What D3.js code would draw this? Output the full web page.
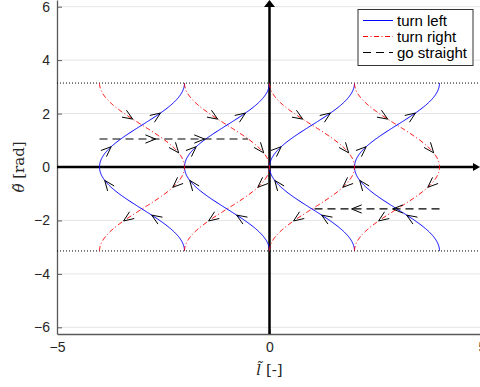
<!DOCTYPE html>
<html>
<head>
<meta charset="utf-8">
<script src="https://cdn.jsdelivr.net/npm/d3@7"></script>
<style>
  body { margin: 0; background: #fff; }
  text { font-family: "Liberation Sans", Arial, sans-serif; }
</style>
</head>
<body>
<div id="chart"></div>
<script>
const xTicks = [-5, 0, 5];
const yTicks = [-6, -4, -2, 0, 2, 4, 6];
const arcCenters = [-3, -1, 1, 3];       // l offset of each arc family
const thetaLimit = Math.PI;               // arcs run over [-pi, pi]
// arrow tip positions (theta) on the half arcs
const leftUpperArrows = [0.76, 2.02];
const leftLowerArrows = [-1.80, -0.50];
const rightUpperArrows = [1.79, 0.53];
const rightLowerArrows = [-0.76, -2.02];
const straightPaths = [
  { theta: Math.PI / 3, from: -4, to: -0.5, arrows: [-2.68, -1.53] },
  { theta: -Math.PI / 2, from: 4, to: 1, arrows: [2.9, 1.93] }
];
const legendLabels = ["turn left", "turn right", "go straight"];

const width = 480, height = 387;
const margin = { left: 57, top: 0, bottom: 53 };

const svg = d3.select("#chart").append("svg")
  .attr("width", width)
  .attr("height", height)
  .style("display", "block");

const x = d3.scaleLinear().domain([-5, 5]).range([margin.left, 482]);
const y = d3.scaleLinear().domain([-6.25, 6.25]).range([height - margin.bottom, margin.top]);

svg.append("defs").append("clipPath").attr("id", "plot")
  .append("rect")
  .attr("x", x(-5)).attr("y", y(6.25))
  .attr("width", x(5) - x(-5)).attr("height", y(-6.25) - y(6.25));

// grid
svg.append("g")
  .selectAll("line")
  .data(yTicks)
  .enter().append("line")
  .attr("x1", x(-5)).attr("x2", x(5))
  .attr("y1", d => y(d)).attr("y2", d => y(d))
  .attr("stroke", "#e6e6e6")
  .attr("stroke-width", 1);

// axes
const yAxis = d3.axisLeft(y).tickValues(yTicks).tickSizeInner(-5).tickSizeOuter(0).tickPadding(7);
const xAxis = d3.axisBottom(x).tickValues(xTicks).tickSizeInner(-5).tickSizeOuter(0).tickPadding(8);

const gy = svg.append("g").attr("transform", `translate(${x(-5)},0)`).call(yAxis);
const gx = svg.append("g").attr("transform", `translate(0,${y(-6.25)})`).call(xAxis);
[gx, gy].forEach(g => {
  g.select(".domain").attr("stroke", "#595959").attr("stroke-width", 1.3);
  g.selectAll(".tick line").attr("stroke", "#595959");
  g.selectAll(".tick text").attr("fill", "#262626").style("font-size", "14px");
});

const plot = svg.append("g").attr("clip-path", "url(#plot)");

// +-pi bounds
plot.selectAll(".bound")
  .data([-Math.PI, Math.PI])
  .enter().append("line")
  .attr("x1", x(-5)).attr("x2", x(5))
  .attr("y1", d => y(d)).attr("y2", d => y(d))
  .attr("stroke", "#000")
  .attr("stroke-width", 1)
  .attr("stroke-dasharray", "1,2");

// black coordinate axes with arrow heads
plot.append("line")
  .attr("x1", x(-5)).attr("x2", x(5) - 8)
  .attr("y1", y(0)).attr("y2", y(0))
  .attr("stroke", "#000").attr("stroke-width", 2.5);
plot.append("path")
  .attr("d", `M${x(5) - 2},${y(0)} L${x(5) - 9},${y(0) - 4} L${x(5) - 9},${y(0) + 4} Z`)
  .attr("fill", "#000");
plot.append("line")
  .attr("x1", x(0)).attr("x2", x(0))
  .attr("y1", y(-6.25)).attr("y2", y(6.25) + 5)
  .attr("stroke", "#000").attr("stroke-width", 2.5);
plot.append("path")
  .attr("d", `M${x(0)},${y(6.25)} L${x(0) - 5.5},${y(6.25) + 7} L${x(0) + 5.5},${y(6.25) + 7} Z`)
  .attr("fill", "#000");

const thetas = d3.range(-thetaLimit, thetaLimit + 1e-9, thetaLimit / 120);
const line = d3.line().x(d => x(d[0])).y(d => y(d[1]));

// turn left: l = c - cos(theta); turn right: l = c + cos(theta)
plot.selectAll(".left")
  .data(arcCenters)
  .enter().append("path")
  .attr("d", c => line(thetas.map(t => [c - Math.cos(t), t])))
  .attr("fill", "none")
  .attr("stroke", "#0000ff")
  .attr("stroke-width", 1);

plot.selectAll(".right")
  .data(arcCenters)
  .enter().append("path")
  .attr("d", c => line(thetas.map(t => [c + Math.cos(t), t])))
  .attr("fill", "none")
  .attr("stroke", "#ff0000")
  .attr("stroke-width", 1)
  .attr("stroke-dasharray", "5,2.5,1,2.5");

plot.selectAll(".straight")
  .data(straightPaths)
  .enter().append("line")
  .attr("x1", d => x(d.from)).attr("x2", d => x(d.to))
  .attr("y1", d => y(d.theta)).attr("y2", d => y(d.theta))
  .attr("stroke", "#000")
  .attr("stroke-width", 1.2)
  .attr("stroke-dasharray", "8,5");

// arrow heads
const arrows = [];
const kx = x(1) - x(0), ky = y(0) - y(1);
arcCenters.forEach(c => {
  leftUpperArrows.concat(leftLowerArrows).forEach(t => {
    arrows.push({ l: c - Math.cos(t), t: t, dx: Math.sin(t) * kx, dy: -ky });
  });
  rightUpperArrows.concat(rightLowerArrows).forEach(t => {
    arrows.push({ l: c + Math.cos(t), t: t, dx: Math.sin(t) * kx, dy: ky });
  });
});
straightPaths.forEach(p => {
  p.arrows.forEach(l => {
    arrows.push({ l: l, t: p.theta, dx: Math.sign(p.to - p.from), dy: 0 });
  });
});

const armLen = 11, armAngle = 22 * Math.PI / 180;
plot.selectAll(".arrow")
  .data(arrows)
  .enter().append("path")
  .attr("d", d => {
    const px = x(d.l), py = y(d.t);
    const n = Math.hypot(d.dx, d.dy);
    const ux = d.dx / n, uy = d.dy / n;
    const arm = s => {
      const ca = Math.cos(s * armAngle), sa = Math.sin(s * armAngle);
      const rx = ux * ca - uy * sa, ry = ux * sa + uy * ca;
      return [px - armLen * rx, py - armLen * ry];
    };
    const a = arm(1), b = arm(-1);
    return `M${a[0]},${a[1]} L${px},${py} L${b[0]},${b[1]}`;
  })
  .attr("fill", "none")
  .attr("stroke", "#000")
  .attr("stroke-width", 1);

// axis labels
const yLabel = svg.append("text")
  .attr("transform", `translate(24,${y(0)}) rotate(-90)`)
  .attr("text-anchor", "middle")
  .attr("fill", "#262626")
  .style("font-family", "'DejaVu Serif', 'Liberation Serif', serif")
  .style("font-size", "15px");
yLabel.append("tspan").style("font-style", "italic").text("θ\u0303");
yLabel.append("tspan").text(" [rad]");

const xLabel = svg.append("text")
  .attr("x", x(0)).attr("y", 375)
  .attr("text-anchor", "middle")
  .attr("fill", "#262626")
  .style("font-family", "'DejaVu Serif', 'Liberation Serif', serif")
  .style("font-size", "15px");
xLabel.append("tspan").style("font-style", "italic").text("l\u0303");
xLabel.append("tspan").text(" [-]");

// legend
const legend = svg.append("g");
legend.append("rect")
  .attr("x", 358).attr("y", 9.5)
  .attr("width", 115).attr("height", 56)
  .attr("fill", "#fff")
  .attr("stroke", "#333")
  .attr("stroke-width", 1);
const legendStyles = [
  { stroke: "#0000ff", dash: null },
  { stroke: "#ff0000", dash: "5,2.5,1,2.5" },
  { stroke: "#000", dash: "8,5" }
];
const rows = legend.selectAll(".row")
  .data(legendLabels)
  .enter().append("g")
  .attr("transform", (d, i) => `translate(0,${20.5 + i * 16})`);
rows.append("line")
  .attr("x1", 363).attr("x2", 393)
  .attr("stroke", (d, i) => legendStyles[i].stroke)
  .attr("stroke-dasharray", (d, i) => legendStyles[i].dash)
  .attr("stroke-width", 1);
rows.append("text")
  .attr("x", 397)
  .attr("dy", "0.35em")
  .style("font-size", "15px")
  .attr("fill", "#000")
  .text(d => d);
</script>
</body>
</html>
